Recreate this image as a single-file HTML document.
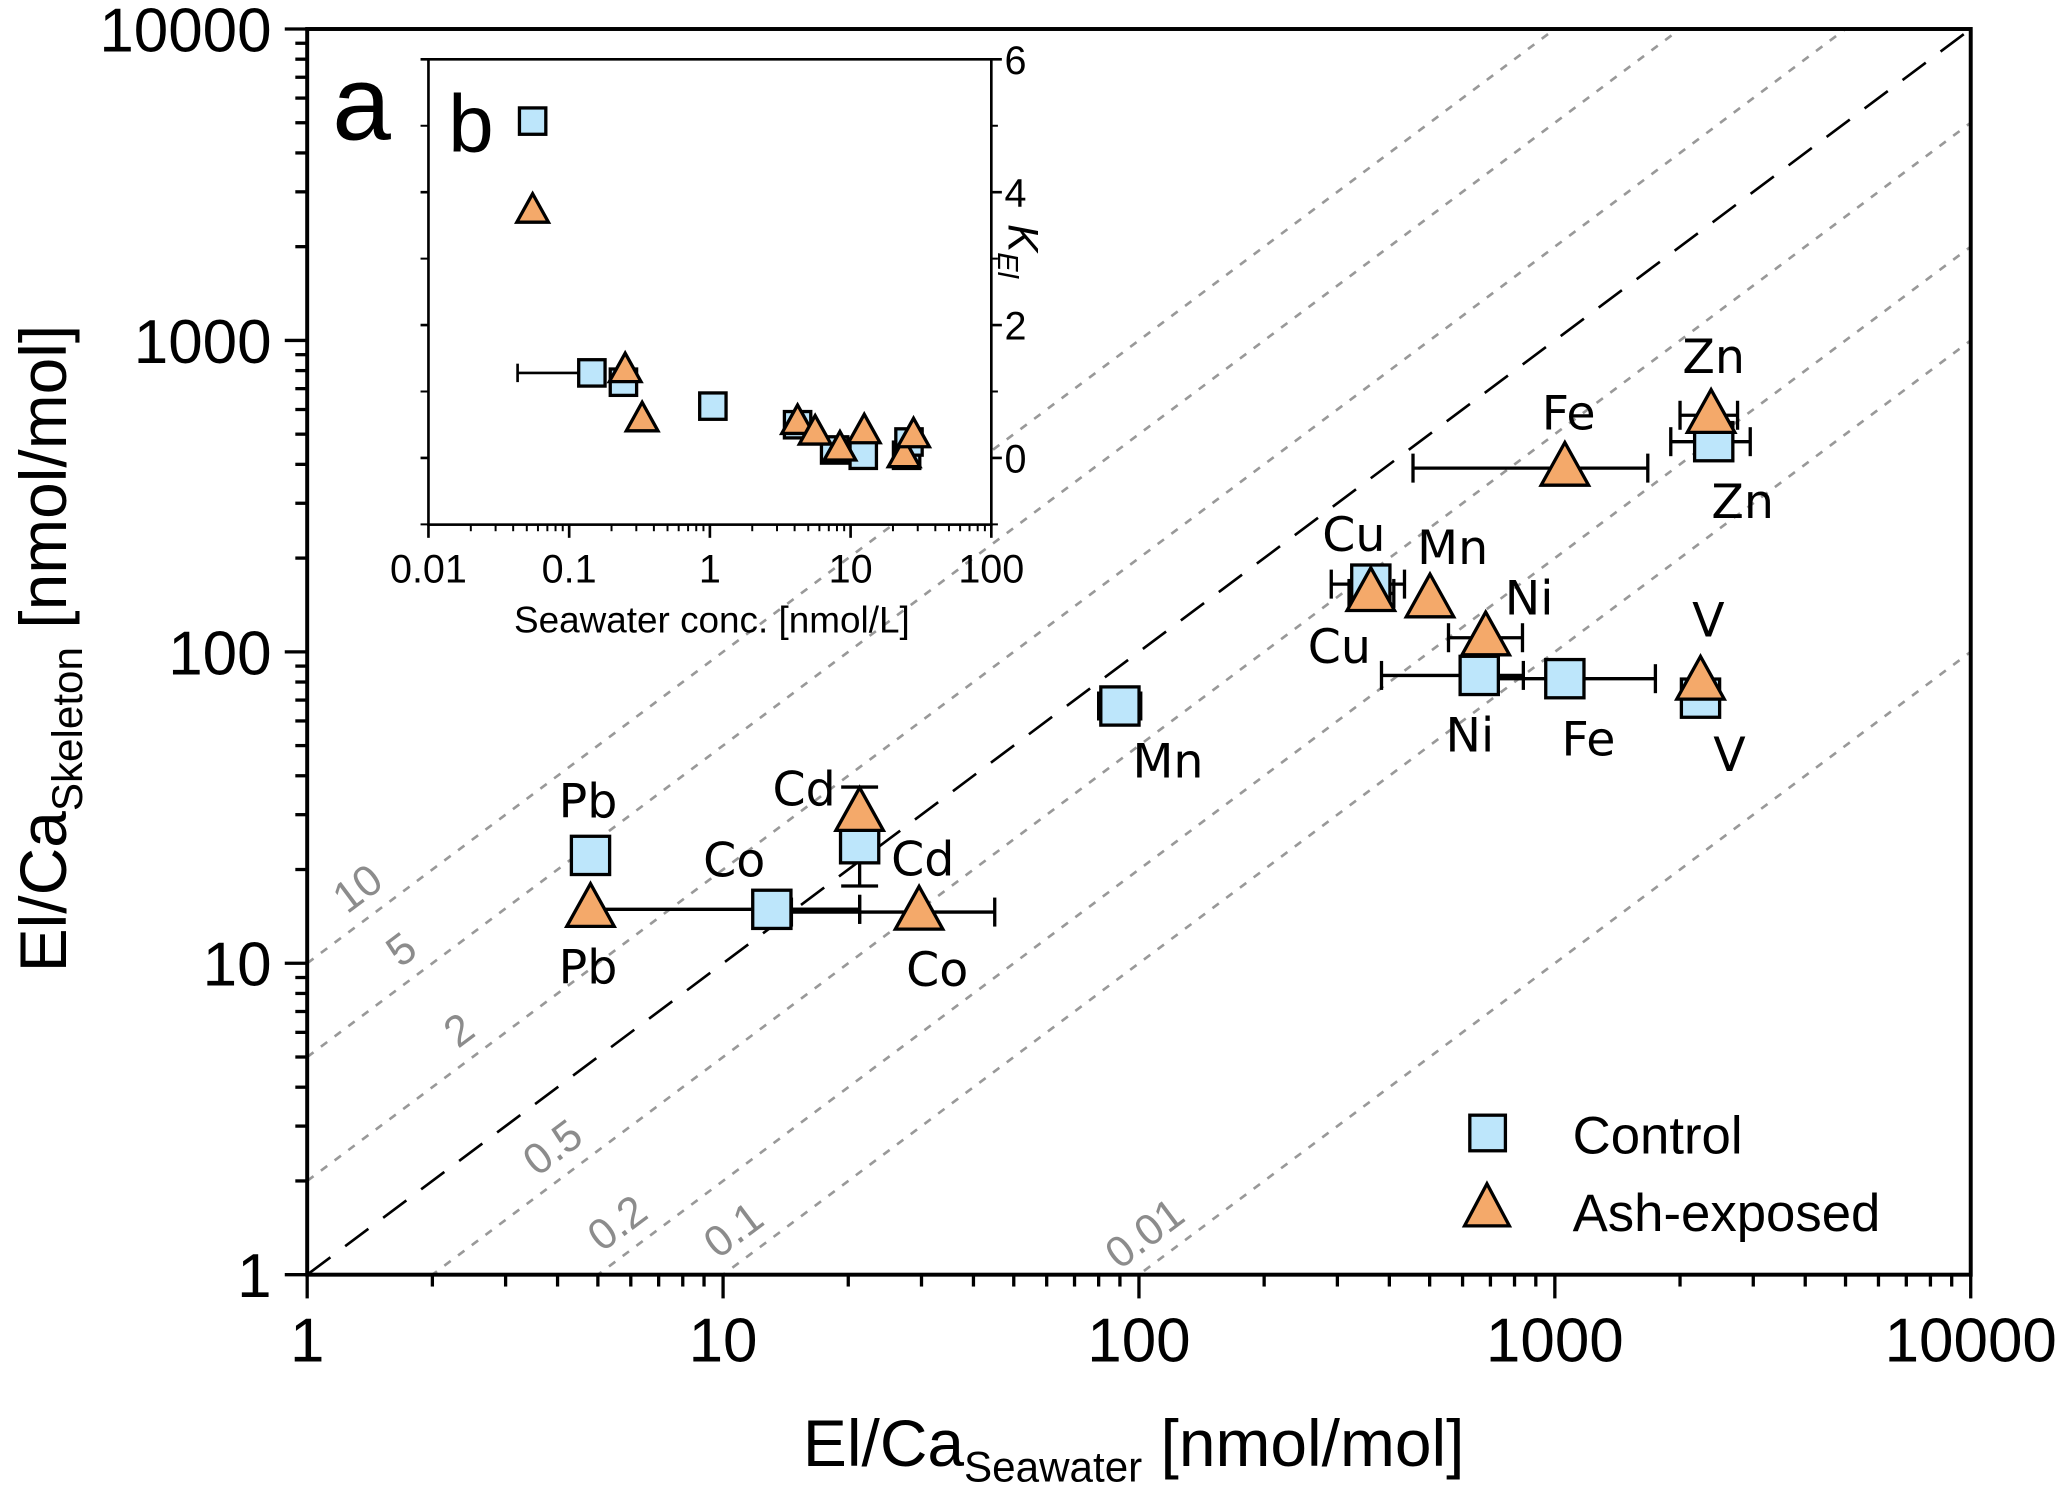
<!DOCTYPE html>
<html><head><meta charset="utf-8">
<style>
html,body{margin:0;padding:0;background:#fff;overflow:hidden;width:2067px;height:1508px;}
svg{display:block;}
text{font-family:"Liberation Sans",sans-serif;}
.el{font-family:"DejaVu Sans","Liberation Sans",sans-serif;font-size:36px;}
</style></head>
<body>
<svg id="chart" xmlns="http://www.w3.org/2000/svg" width="2067" height="1508" viewBox="0 0 1568 1144" overflow="hidden">
<defs>
<clipPath id="plotclip"><rect x="233" y="22" width="1262" height="945"/></clipPath>
</defs>
<g id="diag" clip-path="url(#plotclip)"></g>
<g id="diaglabels"></g>
<g id="errs"></g>
<g id="marks"></g>
<g id="ellabels"></g>
<g id="inset"></g>
<rect x="233" y="22" width="1262" height="945" fill="none" stroke="#000" stroke-width="3"/>
<g id="axes"></g>
<text x="252" y="106" font-size="80">a</text>
<text x="860" y="1112" font-size="50" text-anchor="middle">El/Ca<tspan font-size="32" dy="12">Seawater</tspan><tspan dy="-12"> [nmol/mol]</tspan></text>
<text transform="translate(50,492) rotate(-90)" font-size="50" text-anchor="middle">El/Ca<tspan font-size="32" dy="12">Skeleton</tspan><tspan dy="-12"> [nmol/mol]</tspan></text>
<g>
<rect x="1115" y="846" width="27" height="27" fill="#bde6fb" stroke="#000" stroke-width="2.5"/>
<text x="1193" y="875" font-size="40">Control</text>
<polygon points="1128,898 1111,930 1145,930" fill="#f4a96a" stroke="#000" stroke-width="2.5"/>
<text x="1193" y="934" font-size="40">Ash-exposed</text>
</g>
</svg>
<script>
// ---- main chart data ----
const elements = ["Pb","Co","Cd","Mn","Cu","Ni","Fe","V","Zn"];
const ctrlSea = [4.8, 13.1, 21.3, 90, 361, 658, 1057, 2240, 2410];
const ctrlSkel = [22.2, 14.9, 24.2, 67, 165, 84, 82, 71, 473];
const ashSea = [4.8, 29.6, 21.3, 501, 361, 682, 1057, 2240, 2375];
const ashSkel = [14.9, 14.6, 30.3, 147, 154, 111, 389, 80, 575];
const ctrlXErr = [null, [13.1,21.3], null, [80,101], [290,435], [383,840], [648,1745], null, [1900,2950]];
const ashXErr = [[4.8,21.3], [14.6,45], null, null, [320,410], [555,836], [456,1673], null, [2000,2750]];
const ctrlYErr = [null, null, [17.7,36.8], null, null, null, null, null, null];
const ratios = [10,5,2,1,0.5,0.2,0.1,0.01];
const ratioLabels = ["10","5","2","","0.5","0.2","0.1","0.01"];
const ratioLabelX = [1.46, 1.86, 2.56, null, 4.3, 6.15, 11.7, 114];
const xTicks = [1,10,100,1000,10000];
const xTickLabels = ["1","10","100","1000","10000"];
const yTicks = [1,10,100,1000,10000];
const yTickLabels = ["1","10","100","1000","10000"];
// ---- inset data ----
const inCtrlX = [0.055, 0.145, 0.243, 1.05, 4.2, 7.7, 12.3, 25, 26];
const inCtrlY = [5.07, 1.28, 1.14, 0.78, 0.5, 0.12, 0.04, 0.04, 0.24];
const inAshX = [0.055, 0.25, 0.33, 4.2, 5.6, 8.4, 12.5, 24, 28];
const inAshY = [3.72, 1.32, 0.58, 0.54, 0.38, 0.14, 0.4, 0.04, 0.34];
const inXTicks = [0.01,0.1,1,10,100];
const inXTickLabels = ["0.01","0.1","1","10","100"];
const inYTicks = [0,2,4,6];
const inYTickLabels = ["0","2","4","6"];

const NS="http://www.w3.org/2000/svg";
function mk(tag, attrs, parent){const e=document.createElementNS(NS,tag);for(const k in attrs)e.setAttribute(k,attrs[k]);parent.appendChild(e);return e;}
const L=Math.log10;
const X=v=>233+315.5*L(v);
const Y=v=>967-236.25*L(v);
const IX=v=>325+106.75*(L(v)+2);
const IY=v=>45+50.4*(6-v);

const diag=document.getElementById('diag');
ratios.forEach((k,i)=>{
  const ln=mk('line',{x1:X(1),y1:Y(k),x2:X(10000),y2:Y(k*10000),stroke:k===1?'#000':'#999','stroke-width':2,'stroke-dasharray':k===1?'22,14':'6,7'},diag);
  
  
});
const dl=document.getElementById('diaglabels');
ratios.forEach((k,i)=>{
  if(!ratioLabels[i])return;
  const x=X(ratioLabelX[i]), y=Y(k*ratioLabelX[i]);
  const t=mk('text',{x:0,y:0,transform:`translate(${x-7},${y-9}) rotate(-36.8)`,'font-size':33,fill:'#8c8c8c','text-anchor':'middle','font-family':'DejaVu Sans, sans-serif'},dl);
  t.textContent=ratioLabels[i];
  
  
});
const errs=document.getElementById('errs');
function xerr(r,y){if(!r)return;const a=X(r[0]),b=X(r[1]);
  const g=mk('g',{stroke:'#000','stroke-width':2.5},errs);
  
  
  mk('line',{x1:a,y1:y,x2:b,y2:y},g);mk('line',{x1:a,y1:y-11,x2:a,y2:y+11},g);mk('line',{x1:b,y1:y-11,x2:b,y2:y+11},g);}
function yerr(r,x){if(!r)return;const a=Y(r[0]),b=Y(r[1]);
  const g=mk('g',{stroke:'#000','stroke-width':2.5},errs);
  
  
  mk('line',{x1:x,y1:a,x2:x,y2:b},g);mk('line',{x1:x-14,y1:a,x2:x+14,y2:a},g);mk('line',{x1:x-14,y1:b,x2:x+14,y2:b},g);}
elements.forEach((e,i)=>{xerr(ctrlXErr[i],Y(ctrlSkel[i]));yerr(ctrlYErr[i],X(ctrlSea[i]));xerr(ashXErr[i],Y(ashSkel[i]));});
const marks=document.getElementById('marks');
function sq(cx,cy,s,p){return mk('rect',{x:cx-s/2,y:cy-s/2,width:s,height:s,fill:'#bde6fb',stroke:'#000','stroke-width':2.5},p);}
function tri(cx,cy,s,p){const h=s*0.9;return mk('polygon',{points:`${cx},${cy-h*0.6} ${cx-s/2},${cy+h*0.4} ${cx+s/2},${cy+h*0.4}`,fill:'#f4a96a',stroke:'#000','stroke-width':2.5},p);}
elements.forEach((e,i)=>{
  const r=sq(X(ctrlSea[i]),Y(ctrlSkel[i]),29,marks);
  
  
});
elements.forEach((e,i)=>{
  const t=tri(X(ashSea[i]),Y(ashSkel[i]),36,marks);
  
  
});
const el=document.getElementById('ellabels');
const ctrlLabelPos=[[446,620],[557,665],[700,664],[886,590],[1016,503],[1115,570],[1205,573],[1312,585],[1322,393]];
const ashLabelPos=[[446,746],[711,748],[610,611],[1102,428],[1027,418],[1160,466],[1190,326],[1296,483],[1300,283]];
elements.forEach((e,i)=>{
  let t=mk('text',{x:ctrlLabelPos[i][0],y:ctrlLabelPos[i][1],'text-anchor':'middle',class:'el'},el);
  t.textContent=e;
  
  
  t=mk('text',{x:ashLabelPos[i][0],y:ashLabelPos[i][1],'text-anchor':'middle',class:'el'},el);
  t.textContent=e;
  
  
});
const ax=document.getElementById('axes');
for(let d=0;d<4;d++){for(let m=2;m<=9;m++){const v=Math.pow(10,d)*m;
  mk('line',{x1:X(v),y1:967,x2:X(v),y2:976,stroke:'#000','stroke-width':2.5},ax);
  mk('line',{x1:224,y1:Y(v),x2:233,y2:Y(v),stroke:'#000','stroke-width':2.5},ax);}}
xTicks.forEach((v,i)=>{mk('line',{x1:X(v),y1:967,x2:X(v),y2:985,stroke:'#000','stroke-width':2.5},ax);
  const t=mk('text',{x:X(v),y:1033,'font-size':47,'text-anchor':'middle'},ax);t.textContent=xTickLabels[i];
  
  });
yTicks.forEach((v,i)=>{mk('line',{x1:216,y1:Y(v),x2:233,y2:Y(v),stroke:'#000','stroke-width':2.5},ax);
  const t=mk('text',{x:206,y:Y(v)+17,'font-size':47,'text-anchor':'end'},ax);t.textContent=yTickLabels[i];
  
  });
const ins=document.getElementById('inset');
mk('rect',{x:325,y:45,width:427,height:353,fill:'#fff',stroke:'none'},ins);
mk('line',{x1:IX(0.13),y1:IY(1.28),x2:IX(0.043),y2:IY(1.28),stroke:'#000','stroke-width':2},ins);
mk('line',{x1:IX(0.043),y1:IY(1.28)-7,x2:IX(0.043),y2:IY(1.28)+7,stroke:'#000','stroke-width':2},ins);
inCtrlX.forEach((v,i)=>{const r=sq(IX(v),IY(inCtrlY[i]),20,ins);
  
  });
inAshX.forEach((v,i)=>{const t=tri(IX(v),IY(inAshY[i]),24,ins);
  
  });
mk('rect',{x:325,y:45,width:427,height:353,fill:'none',stroke:'#000','stroke-width':2},ins);
for(let d=-2;d<2;d++){for(let m=2;m<=9;m++){const v=Math.pow(10,d)*m;
  mk('line',{x1:IX(v),y1:398,x2:IX(v),y2:403,stroke:'#000','stroke-width':1.5},ins);}}
inXTicks.forEach((v,i)=>{mk('line',{x1:IX(v),y1:398,x2:IX(v),y2:408,stroke:'#000','stroke-width':2},ins);
  const t=mk('text',{x:IX(v),y:442,'font-size':30,'text-anchor':'middle'},ins);t.textContent=inXTickLabels[i];
  
  });
[-1,1,3,5].forEach(v=>{mk('line',{x1:319,y1:IY(v),x2:325,y2:IY(v),stroke:'#000','stroke-width':1.5},ins);mk('line',{x1:752,y1:IY(v),x2:757,y2:IY(v),stroke:'#000','stroke-width':1.5},ins);});
inYTicks.forEach((v,i)=>{mk('line',{x1:319,y1:IY(v),x2:325,y2:IY(v),stroke:'#000','stroke-width':2},ins);
  mk('line',{x1:752,y1:IY(v),x2:760,y2:IY(v),stroke:'#000','stroke-width':2},ins);
  const t=mk('text',{x:762,y:IY(v)+11,'font-size':30},ins);t.textContent=inYTickLabels[i];
  
  });
let t=mk('text',{x:540,y:480,'font-size':28,'text-anchor':'middle'},ins);t.textContent='Seawater conc. [nmol/L]';


t=mk('text',{transform:'translate(765,170) rotate(90)','font-size':32,'font-style':'italic'},ins);
t.innerHTML='K<tspan font-size="22" dy="8">El</tspan>';


t=mk('text',{x:340,y:115,'font-size':62},ins);t.textContent='b';


</script>
</body></html>
